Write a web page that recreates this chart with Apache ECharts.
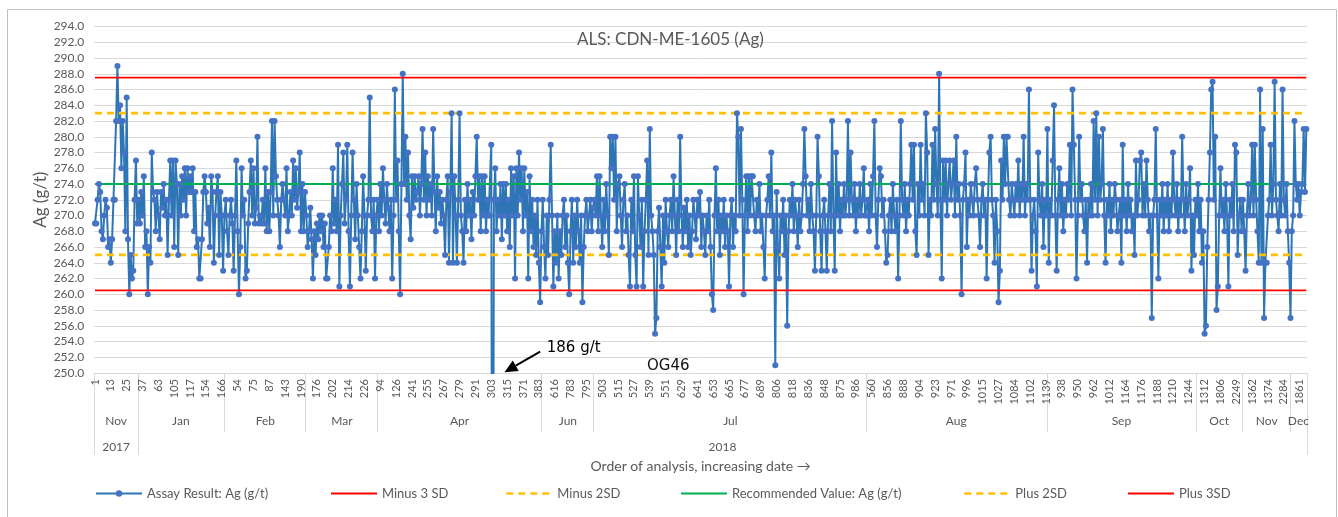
<!DOCTYPE html>
<html><head><meta charset="utf-8">
<script src="https://cdn.jsdelivr.net/npm/echarts@6/dist/echarts.min.js"></script>
<style>html,body{margin:0;padding:0;background:#fff}#c{width:1338px;height:517px}</style>
</head><body><div id="c"></div>
<script>
// ---- DATA ----
const assay = [
// Nov 2017
269,269,272,274,273,268,267,270,272,271,266,267,264,267,272,272,282,289,282,284,276,282,278,268,285,267,260,265,262,263,272,277,269,
// Jan
272,269,273,270,275,266,268,260,266,264,278,273,272,268,273,270,267,273,271,274,270,272,265,272,277,270,277,266,277,274,265,274,270,275,272,276,270,276,273,275,273,276,268,273,266,267,262,262,267,273,275,273,269,271,266,275,273,264,270,273,275,265,273,270,263,
// Feb
270,272,268,265,270,272,269,263,270,277,268,260,266,276,270,272,262,263,269,273,277,270,276,269,271,280,269,270,269,272,269,276,268,273,268,273,282,270,282,275,272,270,266,272,274,272,270,276,268,270,273,270,277,272,276,271,273,278,268,274,268,273,
// Mar
270,266,268,271,267,262,268,265,269,267,270,268,270,266,269,262,262,266,270,268,276,269,272,268,279,261,270,274,278,269,272,279,268,261,270,278,272,267,274,270,266,262,268,275,270,263,270,272,285,270,268,272,262,270,
// Apr
272,268,274,270,276,272,269,274,271,268,
272,262,270,286,272,277,268,260,274,288,
274,280,272,278,270,267,275,271,275,272,
273,275,270,274,281,272,278,270,275,272,
274,270,281,273,268,275,271,273,269,272,
270,265,272,275,264,273,283,264,275,270,
264,272,283,270,268,264,272,268,274,270,
272,267,273,270,275,280,272,275,268,275,
270,275,268,272,270,270,279,186,272,276,
268,272,270,274,267,274,270,274,268,272,
266,276,270,275,262,276,270,278,272,276,
268,276,270,273,262,275,268,272,266,270,
265,272,264,259,
// Jun
268,272,266,262,270,265,272,279,270,261,
268,264,270,262,268,265,270,272,266,270,
264,260,268,272,264,270,266,272,268,264,
270,259,266,270,272,268,270,272,268,271,
// Jul
272,270,275,268,275,270,266,272,268,274,
270,265,280,276,280,272,280,268,274,275,
270,266,272,274,268,270,265,261,272,268,
275,265,261,275,270,266,272,261,268,272,
277,265,281,270,268,265,255,257,268,271,
266,261,270,264,272,268,266,270,272,268,
275,270,265,272,268,280,270,266,271,268,
272,266,270,265,268,272,270,267,272,270,
273,266,270,268,265,270,268,272,266,260,
258,270,276,268,272,265,270,268,272,266,
270,268,261,270,272,266,270,268,283,280,
270,281,272,260,270,275,268,275,270,275,
275,270,268,272,270,274,268,270,266,262,
270,272,275,270,278,268,270,251,273,266,
262,270,268,272,265,270,256,268,272,270,
274,268,272,270,266,272,268,270,274,281,
275,270,272,268,274,270,268,263,270,280,
275,268,263,270,272,268,263,270,274,268,
282,270,263,278,270,274,268,272,270,274,
270,272,282,270,278,272,270,274,268,272,
270,274,270,272,276,270,
// Aug
270,272,268,274,270,275,282,270,266,272,
276,275,270,272,268,264,265,270,272,268,
274,270,268,272,262,270,282,272,270,274,
268,272,270,274,279,272,279,268,265,274,
270,279,272,274,270,283,278,265,272,270,
279,272,281,274,270,288,272,262,277,272,
277,270,274,277,272,274,277,270,280,272,
274,270,260,272,274,278,266,272,270,274,
272,270,274,276,272,270,266,272,274,270,
272,262,272,278,280,272,270,264,272,268,
259,263,277,272,280,274,280,280,272,270,
274,272,270,274,272,277,270,274,272,280,
270,274,272,286,272,263,270,272,268,261,
278,272,270,274,266,272,270,
// Sep
281,264,272,270,277,284,270,263,272,276,
270,274,268,272,270,274,272,279,270,286,
279,272,262,270,280,272,274,270,268,272,
264,272,270,274,270,282,272,283,270,280,
272,274,281,270,264,272,270,274,268,272,
270,274,272,268,270,272,264,279,270,272,
268,274,270,272,268,270,265,277,270,272,
277,278,270,274,270,277,272,268,270,257,
270,272,281,270,262,272,270,274,268,272,
270,274,268,272,270,278,272,270,274,268,
272,270,280,272,268,274,270,272,276,263,
270,265,272,
// Oct
270,274,268,272,264,268,255,256,266,272,
278,286,287,272,280,258,261,270,276,270,
272,268,274,270,261,272,270,274,268,279,
278,265,270,272,268,
// Nov
272,268,263,270,274,270,272,279,270,279,
272,268,264,286,264,281,257,264,264,270,
272,279,270,274,287,272,270,268,274,270,
286,272,270,274,268,264,
// Dec
257,268,270,282,274,272,274,270,273,274,281,273,281
];
const tickLabels = ['1','13','25','37','63','105','117','154','166','54','75','87','143','190','176','202','214','226','94','126','241','255','267','279','291','303','315','371','383','616','783','795','503','515','527','539','551','629','641','653','665','677','689','806','818','836','848','875','986','560','856','888','904','923','971','996','1015','1027','1084','1102','1139','938','950','962','1012','1164','1176','1188','1210','1244','1312','1806','2249','1362','1374','2284','1861'];
const tickEvery = 12;
const monthNames = ['Nov','Jan','Feb','Mar','Apr','Jun','Jul','Aug','Sep','Oct','Nov','Dec'];
const monthCounts = [33,65,62,54,124,40,206,137,113,35,36,13];
const yearNames = ['2017','2018'];
const yearMonthCounts = [1,11];
const recommendedValue = 274;
const minus3SD = 260.5, minus2SD = 265, plus2SD = 283, plus3SD = 287.5;
const seriesNames = ['Assay Result: Ag (g/t)','Minus 3 SD','Minus 2SD','Recommended Value: Ag (g/t)','Plus 2SD','Plus 3SD'];
const yMin = 250, yMax = 294, yStep = 2;
// annotation (data coordinates: category index, value)
const annotation = { outlierText:'186 g/t', textAt:[342,253.1], arrowFrom:[337,252.7], arrowTo:[310,250.1], sampleText:'OG46', sampleAt:[434,250.9] };

// ---- BUILD ----
const N = assay.length;
const categories = assay.map((_, i) => String(i));
const monthStarts = []; { let a = 0; monthCounts.forEach(c => { monthStarts.push(a); a += c; }); }
const monthCenters = monthStarts.map((s, i) => Math.round(s + (monthCounts[i] - 1) / 2));
const yearStarts = []; { let m = 0; yearMonthCounts.forEach(c => { yearStarts.push(monthStarts[m]); m += c; }); }
const yearCenters = yearStarts.map((s, i) => Math.round((s + (i + 1 < yearStarts.length ? yearStarts[i + 1] : N) - 1) / 2));

const FONT = 'Lato, "Open Sans", sans-serif';
const GRAY = '#595959';
const GRID = '#d9d9d9';
const ASSAY_LINE = '#2E75B6', ASSAY_MARK = '#4472C4';

function refSeries(name, val, color, width, type) {
  return { name, type:'line', data: categories.map(() => val), symbol:'none', silent:true,
    lineStyle:{ color, width, type }, itemStyle:{ color }, animation:false };
}

const legendLefts = [95, 330, 505, 680, 963, 1127];

const option = {
  animation: false,
  title: { text:'ALS: CDN-ME-1605 (Ag)', left: 572, top: 26, textStyle:{ fontFamily:FONT, fontSize:17, fontWeight:'normal', color:GRAY } },
  grid: { left: 94.3, right: 31, top: 26.5, bottom: 144, outerBoundsMode:'none', containLabel:false },
  legend: seriesNames.map((n, i) => ({ data:[n], left: legendLefts[i], top: 487, padding: 0, itemWidth: 46, itemHeight: 8, selectedMode:false,
    itemStyle: i === 0 ? { color: ASSAY_MARK, borderWidth: 0, opacity: 1 } : { opacity: 0, color:'transparent', borderWidth:0 },
    lineStyle: i === 0 ? { width: 2, color: ASSAY_LINE } : { width: (i === 2 || i === 4 ? 2.6 : 2) },
    textStyle:{ fontFamily:FONT, fontSize:13, color:GRAY } })),
  xAxis: [
    { type:'category', data: categories, boundaryGap:true, gridIndex:0,
      axisLine:{ show:true, lineStyle:{ color:GRID } }, axisTick:{ show:false },
      axisLabel:{ interval: tickEvery - 1, rotate: 90, margin: 6, fontSize: 11, color:GRAY, fontFamily:FONT,
        formatter: (v, i) => tickLabels[Math.round(i / tickEvery)] },
      name:'Order of analysis, increasing date \u2192', nameLocation:'middle', nameGap: 86, nameMoveOverlap:false,
      nameTextStyle:{ fontFamily:FONT, fontSize:14, color:GRAY } },
    { type:'category', data: categories, boundaryGap:true, gridIndex:0, position:'bottom',
      axisLine:{ show:false }, splitLine:{ show:false },
      axisTick:{ show:true, interval:(i) => monthStarts.includes(i), length: 59, lineStyle:{ color:GRID } },
      axisLabel:{ interval:(i) => monthCenters.includes(i), margin: 42, fontSize: 12, color:GRAY, fontFamily:FONT,
        formatter: (v, i) => monthNames[monthCenters.indexOf(i)] } },
    { type:'category', data: categories, boundaryGap:true, gridIndex:0, position:'bottom',
      axisLine:{ show:false }, splitLine:{ show:false },
      axisTick:{ show:true, interval:(i) => yearStarts.includes(i), length: 82, lineStyle:{ color:GRID } },
      axisLabel:{ interval:(i) => yearCenters.includes(i), margin: 68, fontSize: 12, color:GRAY, fontFamily:FONT,
        formatter: (v, i) => yearNames[yearCenters.indexOf(i)] } }
  ],
  yAxis: { type:'value', min: yMin, max: yMax, interval: yStep,
    axisLine:{ show:false }, axisTick:{ show:false },
    splitLine:{ lineStyle:{ color:GRID, width:1 } },
    axisLabel:{ formatter:(v) => v.toFixed(1), margin: 10, fontSize: 12, color:GRAY, fontFamily:FONT },
    name:'Ag (g/t)', nameLocation:'middle', nameGap: 45, nameMoveOverlap:false,
    nameTextStyle:{ fontFamily:FONT, fontSize:17, color:GRAY } },
  series: [
    { name: seriesNames[0], type:'line', data: assay, xAxisIndex:0, yAxisIndex:0,
      symbol:'circle', symbolSize:6, showSymbol:true, showAllSymbol:true, clip:true,
      lineStyle:{ color: ASSAY_LINE, width:2 }, itemStyle:{ color: ASSAY_MARK }, animation:false, silent:true },
    refSeries(seriesNames[1], minus3SD, '#FF0000', 1.8, 'solid'),
    refSeries(seriesNames[2], minus2SD, '#FFC000', 2.6, [7, 5]),
    refSeries(seriesNames[3], recommendedValue, '#00B050', 1.8, 'solid'),
    refSeries(seriesNames[4], plus2SD, '#FFC000', 2.6, [7, 5]),
    refSeries(seriesNames[5], plus3SD, '#FF0000', 1.8, 'solid')
  ]
};

const chart = echarts.init(document.getElementById('c'), null, { renderer:'canvas' });
chart.setOption(option);

const px = (p) => chart.convertToPixel({ xAxisIndex:0, yAxisIndex:0 }, p);
const tail = px(annotation.arrowFrom), tip = px(annotation.arrowTo);
const dx = tip[0] - tail[0], dy = tip[1] - tail[1], len = Math.hypot(dx, dy);
const ux = dx / len, uy = dy / len, nx = -uy, ny = ux;
const headLen = 13, headHalf = 6;
const bx = tip[0] - ux * headLen, by = tip[1] - uy * headLen;
const tp = px(annotation.textAt), sp = px(annotation.sampleAt);
chart.setOption({
  graphic: [
    { type:'rect', z:0, silent:true, shape:{ x:7.5, y:9.5, width:1329, height:530 }, style:{ fill:'none', stroke:'#c0c0c0', lineWidth:1 } },
    { type:'line', z:100, silent:true, shape:{ x1:tail[0], y1:tail[1], x2:bx, y2:by }, style:{ stroke:'#000', lineWidth:2 } },
    { type:'polygon', z:100, silent:true, shape:{ points:[[tip[0], tip[1]], [bx + nx * headHalf, by + ny * headHalf], [bx - nx * headHalf, by - ny * headHalf]] }, style:{ fill:'#000' } },
    { type:'text', z:100, silent:true, x: tp[0], y: tp[1], style:{ text: annotation.outlierText, fontFamily:'"DejaVu Sans", sans-serif', fontSize:15, fill:'#000', align:'left', verticalAlign:'middle' } },
    { type:'text', z:100, silent:true, x: sp[0], y: sp[1], style:{ text: annotation.sampleText, fontFamily:'"DejaVu Sans", sans-serif', fontSize:15, fill:'#111', align:'center', verticalAlign:'middle' } }
  ]
});
</script>
</body></html>
